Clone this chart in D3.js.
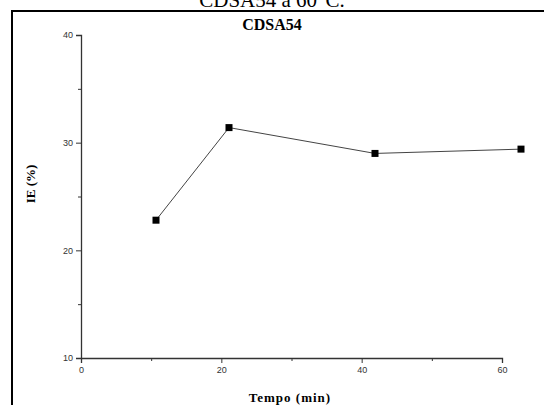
<!DOCTYPE html>
<html>
<head>
<meta charset="utf-8">
<script src="https://cdn.jsdelivr.net/npm/d3@7"></script>
<style>
  body { margin: 0; background: white; }
  svg { display: block; }
</style>
</head>
<body>
<script>
const tempo = [10, 20, 40, 60];
const ie = [22.8, 31.4, 29.0, 29.4];
const xTicks = [0, 20, 40, 60];
const xMinor = [10, 30, 50];
const yTicks = [10, 20, 30, 40];
const yMinor = [15, 25, 35];

const svg = d3.select("body").append("svg")
  .attr("width", 544)
  .attr("height", 405);

// outer frame, only top and left visible in the crop
svg.append("rect")
  .attr("x", 12).attr("y", 11)
  .attr("width", 560).attr("height", 420)
  .attr("fill", "none")
  .attr("stroke", "black")
  .attr("stroke-width", 2);

// caption of the figure, cut by the top edge
svg.append("text")
  .attr("x", 272).attr("y", 7)
  .attr("text-anchor", "middle")
  .style("font-family", "Liberation Serif")
  .style("font-size", "21px")
  .text("CDSA54 a 60°C.");

const x = d3.scaleLinear().domain([0, 60]).range([81, 502]);
// the points in the source are stretched a bit relative to its axis
const xPts = d3.scaleLinear().domain([0, 60]).range([83, 521]);
const y = d3.scaleLinear().domain([10, 40]).range([358, 35]);

const g = svg.append("g");

// x axis
const xAxis = g.append("g").attr("transform", "translate(0,358)");
xAxis.call(d3.axisBottom(x).tickValues(xTicks).tickSize(5).tickPadding(4));
xAxis.append("g").call(d3.axisBottom(x).tickValues(xMinor).tickSize(3).tickFormat(""))
  .select(".domain").remove();

// y axis
const yAxis = g.append("g").attr("transform", "translate(81,0)");
yAxis.call(d3.axisLeft(y).tickValues(yTicks).tickSize(5).tickPadding(3));
yAxis.append("g").call(d3.axisLeft(y).tickValues(yMinor).tickSize(3).tickFormat(""))
  .select(".domain").remove();

g.selectAll(".domain").attr("stroke", "#333").attr("stroke-width", 1.3);
g.selectAll(".tick line").attr("stroke", "#333");
g.selectAll(".tick text")
  .attr("fill", "#333")
  .style("font-family", "Liberation Sans")
  .style("font-size", "9px");

const pts = tempo.map((t, i) => [t, ie[i]]);

svg.append("path")
  .datum(pts)
  .attr("fill", "none")
  .attr("stroke", "#444")
  .attr("stroke-width", 1)
  .attr("d", d3.line().x(d => xPts(d[0])).y(d => y(d[1])));

svg.selectAll("rect.pt")
  .data(pts)
  .enter()
  .append("rect")
  .attr("class", "pt")
  .attr("x", d => xPts(d[0]) - 3.5)
  .attr("y", d => y(d[1]) - 3.5)
  .attr("width", 7)
  .attr("height", 7)
  .attr("fill", "black");

// chart title
svg.append("text")
  .attr("x", 272).attr("y", 30)
  .attr("text-anchor", "middle")
  .style("font-family", "Liberation Serif")
  .style("font-weight", "bold")
  .style("font-size", "16px")
  .text("CDSA54");

svg.append("text")
  .attr("x", 290).attr("y", 402)
  .attr("text-anchor", "middle")
  .style("font-family", "Liberation Serif")
  .style("font-weight", "bold")
  .style("font-size", "13px")
  .style("letter-spacing", "1px")
  .text("Tempo (min)");

svg.append("text")
  .attr("transform", "translate(35,184) rotate(-90)")
  .attr("text-anchor", "middle")
  .style("font-family", "Liberation Serif")
  .style("font-weight", "bold")
  .style("font-size", "13px")
  .text("IE (%)");
</script>
</body>
</html>
